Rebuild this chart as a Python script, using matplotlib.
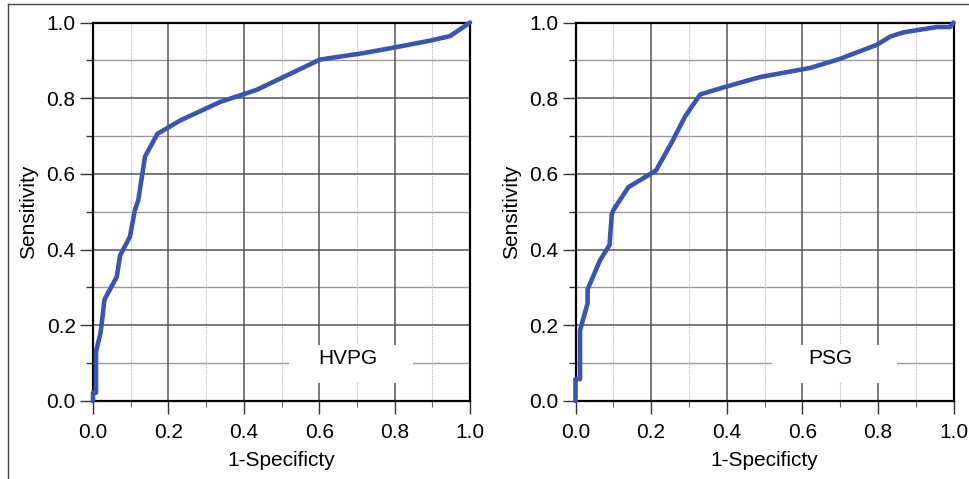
import matplotlib.pyplot as plt
from matplotlib.lines import Line2D
from matplotlib.patches import Rectangle

plt.rcParams['font.family'] = ['Liberation Sans', 'DejaVu Sans']

# ROC points
hvpg_x = [0.0, 0.0, 0.008, 0.008, 0.02, 0.025, 0.03, 0.032, 0.063, 0.072, 0.098,
          0.111, 0.12, 0.138, 0.171, 0.231, 0.337, 0.434, 0.602, 0.717, 0.805,
          0.894, 0.947, 1.0]
hvpg_y = [0.0, 0.022, 0.022, 0.13, 0.18, 0.22, 0.265, 0.271, 0.328, 0.385, 0.434,
          0.504, 0.53, 0.646, 0.706, 0.741, 0.79, 0.822, 0.902, 0.919, 0.935,
          0.952, 0.964, 1.0]

psg_x = [0.0, 0.0, 0.012, 0.012, 0.032, 0.032, 0.065, 0.09, 0.096, 0.1, 0.14,
         0.213, 0.255, 0.29, 0.33, 0.4, 0.489, 0.621, 0.7, 0.797, 0.833, 0.868,
         0.956, 0.991, 1.0]
psg_y = [0.0, 0.058, 0.058, 0.187, 0.258, 0.295, 0.372, 0.412, 0.493, 0.504, 0.565,
         0.609, 0.684, 0.752, 0.81, 0.831, 0.856, 0.88, 0.904, 0.941, 0.963, 0.974,
         0.988, 0.988, 1.0]

panels = [("HVPG", hvpg_x, hvpg_y), ("PSG", psg_x, psg_y)]
ticks = [0.0, 0.2, 0.4, 0.6, 0.8, 1.0]
minor = [0.1, 0.3, 0.5, 0.7, 0.9]

W, H = 969, 479
fig = plt.figure(figsize=(W / 100, H / 100), dpi=100)

# axes placement in pixels: left, right, top, bottom
boxes = [(93, 470, 22.5, 401), (575.5, 953.5, 22.5, 401)]

for (name, xs, ys), (l, r, t, b) in zip(panels, boxes):
    ax = fig.add_axes([l / W, 1 - b / H, (r - l) / W, (b - t) / H])
    ax.set_xlim(0, 1)
    ax.set_ylim(0, 1)
    ax.set_xticks(ticks)
    ax.set_yticks(ticks)
    ax.set_xticks(minor, minor=True)
    ax.set_yticks(minor, minor=True)
    ax.set_xticklabels(["%.1f" % v for v in ticks])
    ax.set_yticklabels(["%.1f" % v for v in ticks])

    for v in minor:
        ax.axvline(v, color="#b5b5b5", lw=0.8, ls=(0, (1, 1)), zorder=1)
        ax.axhline(v, color="#9a9a9a", lw=1.0, zorder=1)
    for v in ticks[1:-1]:
        ax.axvline(v, color="#555555", lw=1.1, zorder=1)
        ax.axhline(v, color="#555555", lw=1.1, zorder=1)

    ax.add_patch(Rectangle((0.52, 0.047), 0.33, 0.1, facecolor="white",
                           edgecolor="none", zorder=2))
    ax.text(0.675, 0.113, name, fontsize=15, ha="center", va="center", zorder=3)

    ax.plot(xs, ys, color="#3a55b0", lw=3.3, solid_joinstyle="round",
            solid_capstyle="round", zorder=5, clip_on=False)

    for s in ax.spines.values():
        s.set_linewidth(1.6)
        s.set_color("black")
        s.set_zorder(4)

    ax.tick_params(axis="both", which="major", direction="out", length=9.5,
                   width=1.0, color="#333333", labelsize=15, pad=3)
    ax.tick_params(axis="x", which="major", pad=6)
    ax.tick_params(axis="x", which="minor", direction="out", length=4.5,
                   width=0.8, color="#666666")
    ax.tick_params(axis="y", which="minor", direction="out", length=5,
                   width=1.0, color="#333333")
    ax.set_xlabel("1-Specificty", fontsize=15, labelpad=7)
    ax.set_ylabel("Sensitivity", fontsize=15, labelpad=6)

# outer frame of the figure (left and top edges)
fig.add_artist(Line2D([8 / W, 8 / W], [0, 1 - 4 / H], color="#444444", lw=1.0))
fig.add_artist(Line2D([8 / W, 1], [1 - 4 / H, 1 - 4 / H], color="#444444", lw=1.0))

fig.savefig("out.png", dpi=100)
